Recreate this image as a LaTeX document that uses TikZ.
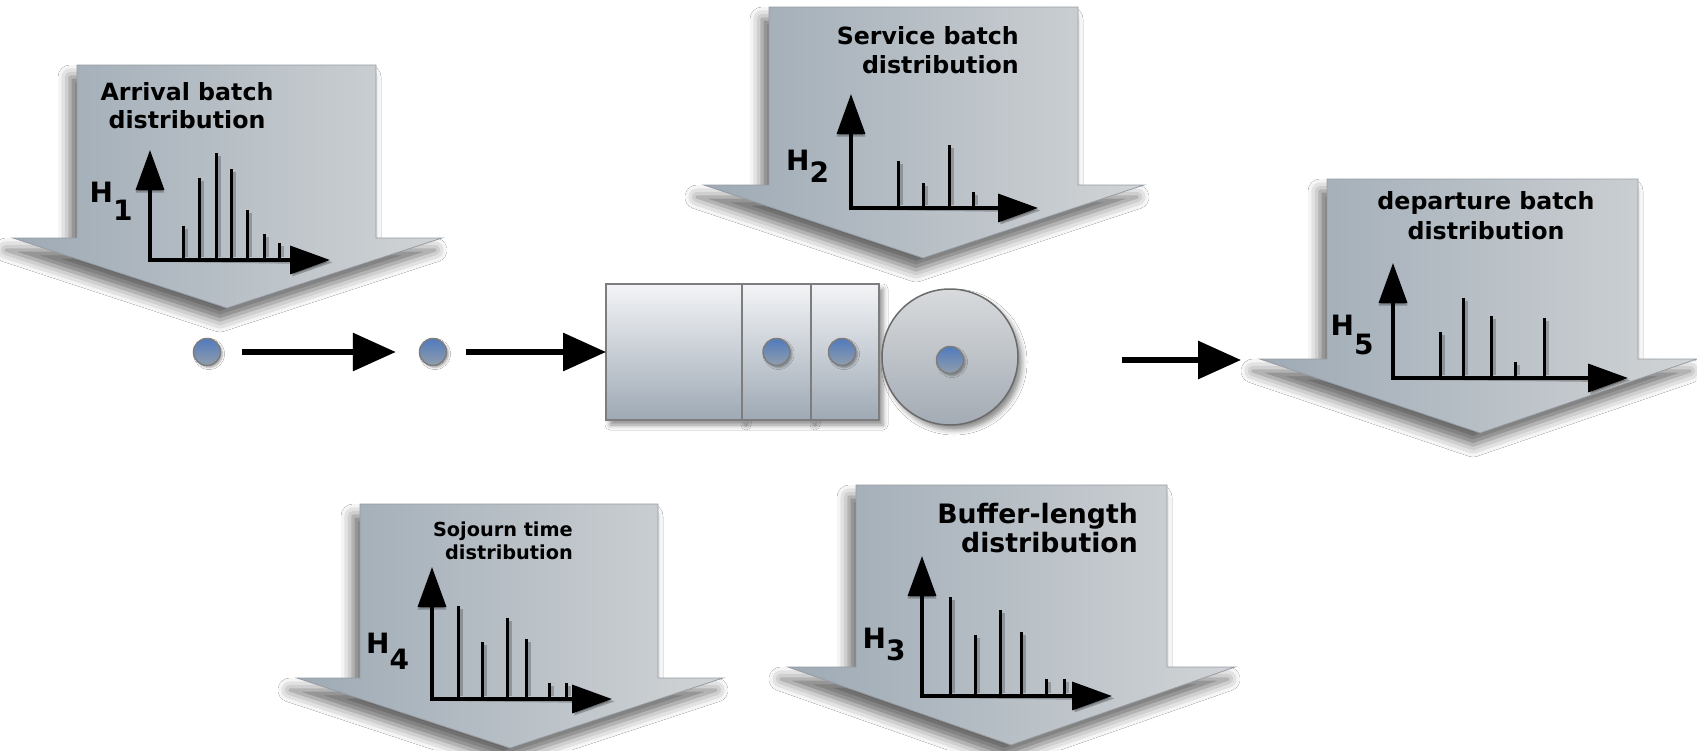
\documentclass[tikz,border=0pt]{standalone}
\usepackage{fontspec}
\setsansfont{DejaVu Sans}
\usetikzlibrary{positioning, arrows.meta, shadows.blur}
\definecolor{arrowleft}{RGB}{158,170,181}
\definecolor{arrowright}{RGB}{209,212,214}
\definecolor{arrowedge}{RGB}{150,156,162}
\definecolor{celltop}{RGB}{243,244,246}
\definecolor{cellbottom}{RGB}{158,169,181}
\definecolor{servertop}{RGB}{216,218,220}
\definecolor{serverbottom}{RGB}{163,171,180}
\definecolor{jobtop}{RGB}{80,122,190}
\definecolor{jobbottom}{RGB}{145,158,172}
\definecolor{edgegray}{RGB}{125,125,125}
\tikzset{
  distarrow/.style={
    draw=arrowedge, line width=0.8pt, left color=arrowleft, right color=arrowright,
    blur shadow={shadow xshift=-7pt, shadow yshift=-12pt, shadow blur radius=12pt, shadow opacity=60}
  },
  title/.style={
    font=\sffamily\bfseries\fontsize{23.7}{28}\selectfont,
    inner sep=0pt, align=center, anchor=north
  },
  hlabel/.style={font=\sffamily\bfseries\fontsize{28}{28}\selectfont, anchor=base west, inner sep=0pt},
  axes/.style={
    line width=3.5pt, draw=black, fill opacity=1, draw opacity=1,
    {Triangle[length=40pt,width=28pt,fill=black]}-{Triangle[length=40pt,width=28pt,fill=black]}
  },
  axesshadow/.style={axes, draw opacity=0.25, fill opacity=0.25, xshift=2.5pt, yshift=-2.5pt},
  bar/.style={line width=3pt},
  barshadow/.style={line width=3pt, opacity=0.22},
  cellbox/.style={
    draw=edgegray, line width=1.5pt, top color=celltop, bottom color=cellbottom,
    minimum height=136pt, inner sep=0pt, outer sep=0pt,
    blur shadow={shadow xshift=4pt, shadow yshift=-5pt, shadow blur radius=5pt, shadow opacity=45}
  },
  server/.style={
    circle, draw=edgegray!85!black, line width=1.5pt, top color=servertop, bottom color=serverbottom,
    minimum size=136pt, inner sep=0pt,
    blur shadow={shadow xshift=4pt, shadow yshift=-5pt, shadow blur radius=5pt, shadow opacity=45}
  },
  job/.style={
    circle, draw=edgegray, line width=1.5pt, top color=jobtop, bottom color=jobbottom,
    minimum size=27pt, inner sep=0pt,
    blur shadow={shadow xshift=2pt, shadow yshift=-2pt, shadow blur radius=2pt, shadow opacity=35}
  },
  flow/.style={
    line width=6pt, draw=black, fill opacity=1, draw opacity=1,
    -{Triangle[length=43pt,width=37pt,fill=black]}
  },
  flowshadow/.style={flow, draw opacity=0.22, fill opacity=0.22, xshift=2.5pt, yshift=-3.5pt}
}

\begin{document}
\begin{tikzpicture}[x=1pt, y=-1pt]
  \useasboundingbox[fill=white] (0,0) rectangle (1697,750);

  \draw[distarrow] (77,65) -- (376,65) -- (376,238) -- (442,238) -- (227,308) -- (13,238) -- (77,238) -- cycle;
  \draw[distarrow] (769,7) -- (1078,7) -- (1078,185) -- (1144,185) -- (923,258) -- (704,185) -- (769,185) -- cycle;
  \draw[distarrow] (1327,179) -- (1638,179) -- (1638,359) -- (1697,359) -- (1480,433) -- (1260,359) -- (1327,359) -- cycle;
  \draw[distarrow] (360,504) -- (658,504) -- (658,678) -- (723,678) -- (510,748) -- (297,678) -- (360,678) -- cycle;
  \draw[distarrow] (856,485) -- (1167,485) -- (1167,667) -- (1235,667) -- (1011,745) -- (788,667) -- (856,667) -- cycle;

  \node[title] (t1) at (187,82) {Arrival batch\\distribution};
  \node[title, align=right, anchor=north east, font=\sffamily\bfseries\fontsize{23.7}{29}\selectfont] (t2) at (1019,26) {Service batch\\distribution};
  \node[title, font=\sffamily\bfseries\fontsize{23.7}{30}\selectfont] (t5) at (1486,191) {departure batch\\distribution};
  \node[title, align=right, anchor=north east, font=\sffamily\bfseries\fontsize{19.3}{23}\selectfont] (t4) at (573,522) {Sojourn time\\distribution};
  \node[title, align=right, anchor=north east, font=\sffamily\bfseries\fontsize{26.7}{29}\selectfont] (t3) at (1138,503) {Buffer-length\\distribution};

  \node[hlabel] (h1) at (89.5,202) {H\raisebox{-18pt}{1}};
  \node[hlabel] (h2) at (786,170) {H\raisebox{-12pt}{2}};
  \node[hlabel] (h3) at (862.5,648) {H\raisebox{-12pt}{3}};
  \node[hlabel] (h4) at (366,653) {H\raisebox{-16pt}{4}};
  \node[hlabel] (h5) at (1330.5,335) {H\raisebox{-19pt}{5}};

  \coordinate (o1) at (150,260);
  \coordinate (o2) at (851,208);
  \coordinate (o3) at (922,696);
  \coordinate (o4) at (432,699);
  \coordinate (o5) at (1393,378);

  \draw[axesshadow] (o1 |- 0,150) -- (o1) -- (330,260);
  \draw[axes] (o1 |- 0,150) -- (o1) -- (330,260);
  \foreach \x/\t in {183/226, 199/178, 216/153, 231/169, 247/210, 264/234, 279/243} {
    \draw[barshadow] (\x+3,257) -- (\x+3,\t+3);
    \draw[bar] (\x,260) -- (\x,\t);
  }

  \draw[axesshadow] (o2 |- 0,94) -- (o2) -- (1038,208);
  \draw[axes] (o2 |- 0,94) -- (o2) -- (1038,208);
  \foreach \x/\t in {898/161, 923/183, 949/145, 973/192} {
    \draw[barshadow] (\x+3,205) -- (\x+3,\t+3);
    \draw[bar] (\x,208) -- (\x,\t);
  }

  \draw[axesshadow] (o3 |- 0,556) -- (o3) -- (1112,696);
  \draw[axes] (o3 |- 0,556) -- (o3) -- (1112,696);
  \foreach \x/\t in {950/597, 975/635, 1000/610, 1021/632, 1046/679, 1064/679} {
    \draw[barshadow] (\x+3,693) -- (\x+3,\t+3);
    \draw[bar] (\x,696) -- (\x,\t);
  }

  \draw[axesshadow] (o4 |- 0,567) -- (o4) -- (612,699);
  \draw[axes] (o4 |- 0,567) -- (o4) -- (612,699);
  \foreach \x/\t in {458/606, 482/642, 507/618, 526/639, 549/683, 566/683} {
    \draw[barshadow] (\x+3,696) -- (\x+3,\t+3);
    \draw[bar] (\x,699) -- (\x,\t);
  }

  \draw[axesshadow] (o5 |- 0,263) -- (o5) -- (1628,378);
  \draw[axes] (o5 |- 0,263) -- (o5) -- (1628,378);
  \foreach \x/\t in {1440/332, 1463/298, 1491/316, 1515/362, 1544/318} {
    \draw[barshadow] (\x+3,375) -- (\x+3,\t+3);
    \draw[bar] (\x,378) -- (\x,\t);
  }

  \node[cellbox, minimum width=136pt] (cell1) at (674,352) {};
  \node[cellbox, minimum width=69pt, right=0pt of cell1] (cell2) {};
  \node[cellbox, minimum width=68pt, right=0pt of cell2] (cell3) {};
  \node[server] (server) at (950,357) {};

  \node[job] (job1) at (207,352) {};
  \node[job] (job2) at (433,352) {};
  \node[job] (job3) at (cell2.center) {};
  \node[job] (job4) at ([xshift=-3pt]cell3.center) {};
  \node[job] (job5) at ([yshift=-3pt]server.center) {};

  \coordinate (out) at (1122,360);
  \coordinate (in5) at (1241,360);

  \draw[flowshadow, shorten <=21pt, shorten >=23pt] (job1) -- (job2);
  \draw[flow, shorten <=21pt, shorten >=23pt] (job1) -- (job2);
  \draw[flowshadow, shorten <=19pt] (job2) -- (job2 -| cell1.west);
  \draw[flow, shorten <=19pt] (job2) -- (job2 -| cell1.west);
  \draw[flowshadow] (out) -- (in5);
  \draw[flow] (out) -- (in5);
\end{tikzpicture}
\end{document}
